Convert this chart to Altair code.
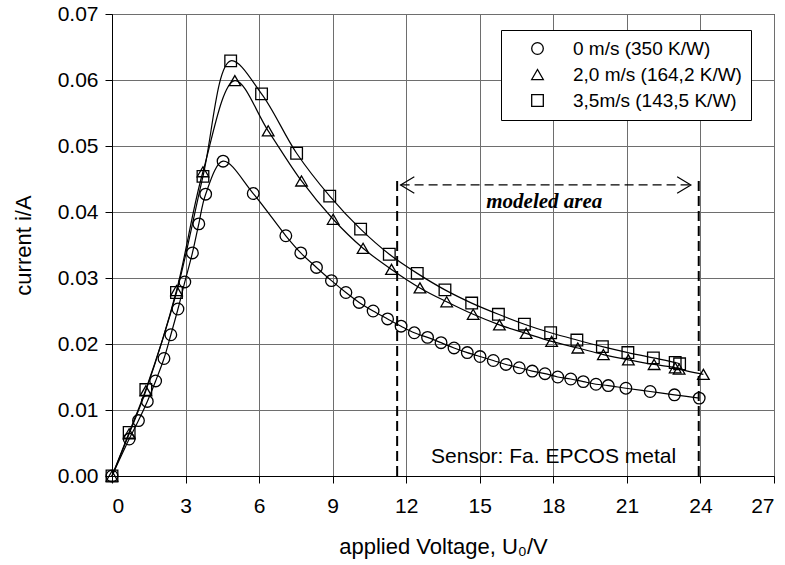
import altair as alt
import pandas as pd

FONT = "Liberation Sans"

series_names = ["0 m/s (350 K/W)", "2,0 m/s (164,2 K/W)", "3,5m/s (143,5 K/W)"]
series_shapes = ["circle", "triangle-up", "square"]

u_0 = [0, 0.70, 1.08, 1.44, 1.78, 2.12, 2.40, 2.69, 2.97, 3.28,
       3.54, 3.82, 4.53, 5.76, 7.09, 7.70, 8.34, 8.95, 9.54, 10.08,
       10.65, 11.24, 11.79, 12.33, 12.87, 13.42, 13.95, 14.49, 15.01, 15.55,
       16.07, 16.61, 17.14, 17.66, 18.18, 18.71, 19.22, 19.74, 20.24, 20.96,
       21.95, 22.94, 23.95]
i_0 = [0, 0.0056, 0.0084, 0.0113, 0.0144, 0.0178, 0.0214, 0.0253, 0.0294, 0.0338,
       0.0382, 0.0427, 0.0477, 0.0428, 0.0364, 0.0338, 0.0316, 0.0296, 0.0278, 0.0263,
       0.0250, 0.0238, 0.0227, 0.0217, 0.0210, 0.0202, 0.0194, 0.0187, 0.0181, 0.0175,
       0.0169, 0.0164, 0.0159, 0.0155, 0.0150, 0.0147, 0.0143, 0.0139, 0.0137, 0.0133,
       0.0128, 0.0123, 0.0118]

u_20 = [0, 0.70, 1.38, 2.63, 3.71, 5.01, 6.37, 7.73, 9.02, 10.24,
        11.40, 12.56, 13.65, 14.73, 15.80, 16.89, 17.93, 19.00, 20.04, 21.06,
        22.11, 22.97, 23.13, 24.12]
i_20 = [0, 0.0064, 0.0129, 0.0281, 0.0461, 0.0599, 0.0523, 0.0447, 0.0389, 0.0345,
        0.0313, 0.0285, 0.0264, 0.0245, 0.0229, 0.0216, 0.0204, 0.0194, 0.0184, 0.0176,
        0.0169, 0.0164, 0.0162, 0.0154]

u_35 = [0, 0.70, 1.38, 2.63, 3.71, 4.84, 6.10, 7.53, 8.88, 10.14,
        11.31, 12.45, 13.58, 14.67, 15.76, 16.82, 17.89, 18.96, 20.00, 21.04,
        22.08, 22.97, 23.15]
i_35 = [0, 0.0066, 0.0131, 0.0278, 0.0454, 0.0629, 0.0579, 0.0489, 0.0424, 0.0374,
        0.0336, 0.0307, 0.0282, 0.0262, 0.0245, 0.0230, 0.0217, 0.0206, 0.0196, 0.0187,
        0.0179, 0.0172, 0.0170]

x_ticks = [0, 3, 6, 9, 12, 15, 18, 21, 24, 27]
y_ticks = [0.00, 0.01, 0.02, 0.03, 0.04, 0.05, 0.06, 0.07]

# modeled-area markers
bound_x = [11.63, 23.93]
bound_top = 0.0448
arrow_y = 0.0441
arrow_x = [11.77, 23.61]
head_x = [12.33, 11.77, 12.33, 23.05, 23.61, 23.05]
head_y = [0.04535, 0.0441, 0.04285, 0.04535, 0.0441, 0.04285]
head_id = ["L", "L", "L", "R", "R", "R"]

rows = []
for name, us, iv in zip(series_names, [u_0, u_20, u_35], [i_0, i_20, i_35]):
    for k, (u, i) in enumerate(zip(us, iv)):
        rows.append({"series": name, "u": u, "i": i, "k": k})
df = pd.DataFrame(rows)

xs = alt.Scale(domain=[0, 27], nice=False, zero=False)
ys = alt.Scale(domain=[0, 0.07], nice=False, zero=False)

x_axis = alt.Axis(values=x_ticks, title="applied Voltage, U\u2080/V", format="d",
                  grid=True, gridColor="#6e6e6e", gridWidth=1, domainColor="black",
                  tickColor="black", tickSize=7, labelFontSize=21, labelFont=FONT,
                  labelPadding=12, titleFont=FONT, titleFontSize=22,
                  titleFontWeight="normal", titlePadding=20, titleColor="black",
                  labelColor="black")
y_axis = alt.Axis(values=y_ticks, title="current i/A", format=".2f",
                  grid=True, gridColor="#6e6e6e", gridWidth=1, domainColor="black",
                  tickColor="black", tickSize=7, labelFontSize=21, labelFont=FONT,
                  labelPadding=7, titleFont=FONT, titleFontSize=22,
                  titleFontWeight="normal", titlePadding=22, titleColor="black",
                  labelColor="black")

base = alt.Chart(df)

lines = base.mark_line(interpolate="catmull-rom", color="black", strokeWidth=1.2).encode(
    x=alt.X("u:Q", scale=xs, axis=x_axis),
    y=alt.Y("i:Q", scale=ys, axis=y_axis),
    detail="series:N",
    order="k:Q",
)

points = base.mark_point(filled=False, color="black", size=135, strokeWidth=1.3, opacity=1).encode(
    x=alt.X("u:Q", scale=xs),
    y=alt.Y("i:Q", scale=ys),
    shape=alt.Shape("series:N",
                    scale=alt.Scale(domain=series_names, range=series_shapes),
                    legend=alt.Legend(title=None, orient="none", legendX=389, legendY=16,
                                      strokeColor="black", fillColor="white", padding=9,
                                      labelFont=FONT, labelFontSize=19, labelColor="black",
                                      labelLimit=0,
                                      symbolSize=135, symbolStrokeWidth=1.3,
                                      symbolStrokeColor="black", symbolFillColor="transparent",
                                      symbolOffset=18, labelOffset=26, rowPadding=6)),
)

bdf = pd.DataFrame({"u": bound_x, "i0": [0, 0], "i1": [bound_top, bound_top]})
bounds = alt.Chart(bdf).mark_rule(color="black", strokeWidth=2, strokeDash=[10, 5]).encode(
    x=alt.X("u:Q", scale=xs), y=alt.Y("i0:Q", scale=ys), y2="i1:Q")

adf = pd.DataFrame({"u0": [arrow_x[0]], "u1": [arrow_x[1]], "i": [arrow_y]})
shaft = alt.Chart(adf).mark_rule(color="black", strokeWidth=1.2, strokeDash=[9, 5]).encode(
    x=alt.X("u0:Q", scale=xs), x2="u1:Q", y=alt.Y("i:Q", scale=ys))

hdf = pd.DataFrame({"u": head_x, "i": head_y, "g": head_id, "k": list(range(6))})
heads = alt.Chart(hdf).mark_line(color="black", strokeWidth=1.2).encode(
    x=alt.X("u:Q", scale=xs), y=alt.Y("i:Q", scale=ys), detail="g:N", order="k:Q")

tdf = pd.DataFrame({"u": [17.63], "i": [0.04056], "t": ["modeled area"]})
label_area = alt.Chart(tdf).mark_text(font="Liberation Serif", fontSize=21, fontStyle="italic",
                                      fontWeight="bold", align="center", baseline="alphabetic",
                                      color="black").encode(
    x=alt.X("u:Q", scale=xs), y=alt.Y("i:Q", scale=ys), text="t:N")

sdf = pd.DataFrame({"u": [18.01], "i": [0.0019], "t": ["Sensor: Fa. EPCOS metal"]})
label_sensor = alt.Chart(sdf).mark_text(font=FONT, fontSize=21, align="center",
                                        baseline="alphabetic", color="black").encode(
    x=alt.X("u:Q", scale=xs), y=alt.Y("i:Q", scale=ys), text="t:N")

chart = alt.layer(lines, bounds, shaft, heads, label_area, label_sensor, points).properties(
    width=662, height=462,
    padding={"left": 112, "top": 14, "right": 11, "bottom": 89},
    autosize=alt.AutoSizeParams(type="none"),
    background="white",
).configure_view(stroke="black", strokeWidth=1)

chart.save("out.html", embed_options={"renderer": "svg", "actions": False})
